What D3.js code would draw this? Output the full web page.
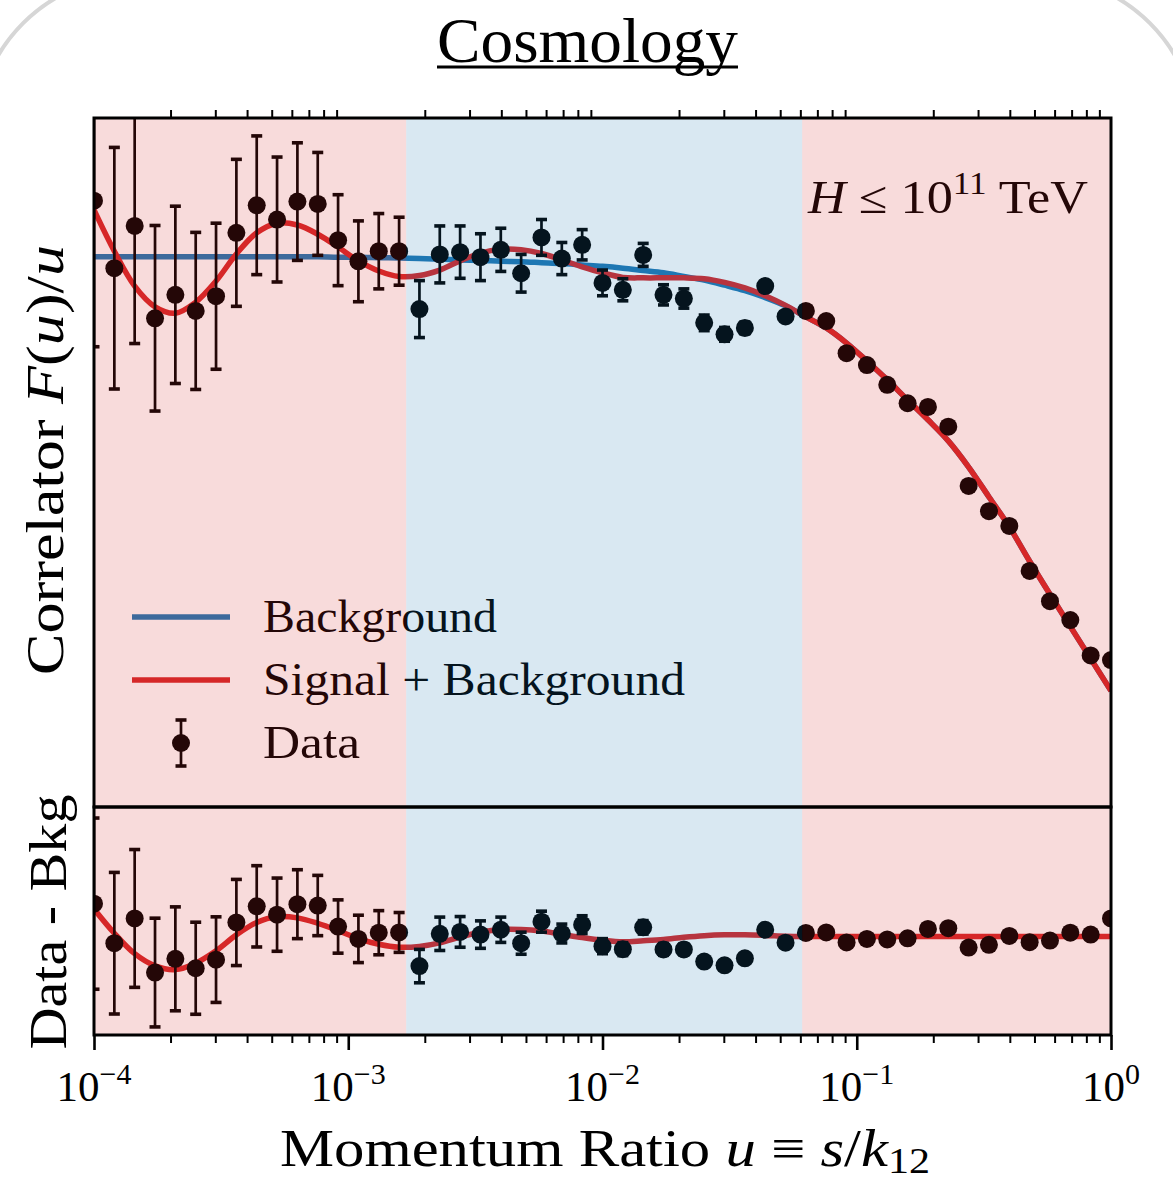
<!DOCTYPE html>
<html>
<head>
<meta charset="utf-8">
<script src="https://cdn.jsdelivr.net/npm/d3@7"></script>
<style>
  body { margin: 0; background: #fff; }
</style>
</head>
<body>
<div id="viz"></div>
<script>
// momentum ratio u, as log10 exponents of the sampled points
var logU = [-4.00,-3.92,-3.84,-3.76,-3.68,-3.60,-3.52,-3.44,-3.36,-3.28,
            -3.20,-3.12,-3.04,-2.96,-2.88,-2.80,-2.72,-2.64,-2.56,-2.48,
            -2.40,-2.32,-2.24,-2.16,-2.08,-2.00,-1.92,-1.84,-1.76,-1.68,
            -1.60,-1.52,-1.44,-1.36,-1.28,-1.20,-1.12,-1.04,-0.96,-0.88,
            -0.80,-0.72,-0.64,-0.56,-0.48,-0.40,-0.32,-0.24,-0.16,-0.08,0.00];

// measured correlator F(u)/u and its error
var dataY = [1.320,1.173,1.265,1.064,1.115,1.080,1.112,1.250,1.310,1.279,
             1.318,1.313,1.234,1.188,1.210,1.210,1.084,1.203,1.208,1.197,
             1.213,1.162,1.240,1.194,1.224,1.141,1.126,1.202,1.115,1.107,
             1.054,1.029,1.043,1.134,1.068,1.080,1.058,0.988,0.962,0.919,
             0.879,0.871,0.828,0.699,0.644,0.612,0.514,0.448,0.407,0.330,0.320];
var dataErr = [0.318,0.263,0.256,0.202,0.193,0.171,0.159,0.160,0.151,0.136,
               0.128,0.112,0.099,0.088,0.082,0.074,0.062,0.062,0.057,0.051,
               0.047,0.041,0.039,0.035,0.033,0.028,0.024,0.025,0.022,0.021,
               0.017,0.015,0.013,0.011,0.009,0.006,0.005,0.004,0.004,0.003,
               0.003,0.002,0.002,0.002,0.002,0.001,0.001,0.001,0.001,0.001,0.001];

// background model
var bkgY = [1.198,1.198,1.198,1.198,1.198,1.198,1.198,1.198,1.198,1.198,
            1.198,1.198,1.197,1.197,1.196,1.195,1.194,1.193,1.191,1.190,
            1.188,1.187,1.185,1.183,1.180,1.177,1.173,1.168,1.163,1.155,
            1.147,1.136,1.124,1.109,1.091,1.067,1.043,1.010,0.971,0.930,
            0.886,0.843,0.797,0.740,0.675,0.610,0.535,0.463,0.393,0.323,0.253];

// signal + background model
var sigY = [1.300,1.210,1.134,1.089,1.075,1.099,1.145,1.204,1.250,1.271,
            1.267,1.247,1.219,1.189,1.167,1.155,1.157,1.169,1.189,1.206,
            1.214,1.213,1.205,1.191,1.176,1.163,1.153,1.152,1.152,1.152,
            1.150,1.142,1.130,1.113,1.092,1.067,1.043,1.010,0.971,0.930,
            0.886,0.843,0.797,0.740,0.675,0.610,0.535,0.463,0.393,0.323,0.253];

// shaded bands: edges and colours
var bandEdges = [1e-4, 1.69e-3, 0.061, 1];
var bandColors = ['#d62728', '#1f77b4', '#d62728'];

var decades = [1e-4, 1e-3, 1e-2, 1e-1, 1];
var decadeLabels = ['\u22124', '\u22123', '\u22122', '\u22121', '0'];

var legendLabels = ['Background', 'Signal + Background', 'Data'];

var W = 1173, H = 1180,
    plotL = 94, plotR = 1111, plotT = 118, plotS = 807, plotB = 1035;

var svg = d3.select('#viz').append('svg')
  .attr('width', W)
  .attr('height', H)
  .style('font-family', '"Liberation Serif", "DejaVu Serif", serif');

svg.append('rect').attr('width', W).attr('height', H).attr('fill', '#fff');

// rounded card outline, only the corners fall inside the picture
svg.append('rect')
  .attr('x', -24).attr('y', -24)
  .attr('width', W + 48).attr('height', H + 400)
  .attr('rx', 161)
  .attr('fill', 'none')
  .attr('stroke', '#d6d6d6')
  .attr('stroke-width', 4);

var x = d3.scaleLog().domain([1e-4, 1]).range([plotL, plotR]);
var yMain = d3.scaleLinear().domain([0, 1.5]).range([plotS, plotT]);
var yRes = d3.scaleLinear().domain([-0.366, 0.481]).range([plotB, plotS]);

var pts = logU.map(function(e, i) {
  return { u: Math.pow(10, e), d: dataY[i], err: dataErr[i], bkg: bkgY[i], sig: sigY[i] };
});

var defs = svg.append('defs');
defs.append('clipPath').attr('id', 'clipMain').append('rect')
  .attr('x', plotL).attr('y', plotT).attr('width', plotR - plotL).attr('height', plotS - plotT);
defs.append('clipPath').attr('id', 'clipRes').append('rect')
  .attr('x', plotL).attr('y', plotS).attr('width', plotR - plotL).attr('height', plotB - plotS);

var mainG = svg.append('g').attr('clip-path', 'url(#clipMain)');
var resG = svg.append('g').attr('clip-path', 'url(#clipRes)');

var lineBkg = d3.line()
  .x(function(d) { return x(d.u); })
  .y(function(d) { return yMain(d.bkg); })
  .curve(d3.curveCatmullRom);
var lineSig = d3.line()
  .x(function(d) { return x(d.u); })
  .y(function(d) { return yMain(d.sig); })
  .curve(d3.curveCatmullRom);
var lineSigRes = d3.line()
  .x(function(d) { return x(d.u); })
  .y(function(d) { return yRes(d.sig - d.bkg); })
  .curve(d3.curveCatmullRom);

mainG.append('path').datum(pts).attr('d', lineBkg)
  .attr('fill', 'none').attr('stroke', '#1f77b4').attr('stroke-width', 5.5);
mainG.append('path').datum(pts).attr('d', lineSig)
  .attr('fill', 'none').attr('stroke', '#d62728').attr('stroke-width', 5.5);
resG.append('path').datum(pts).attr('d', lineSigRes)
  .attr('fill', 'none').attr('stroke', '#d62728').attr('stroke-width', 5.5);

function drawPoints(g, yScale, valueOf) {
  var p = g.selectAll('g.pt').data(pts).enter().append('g').attr('class', 'pt');
  p.append('line')
    .attr('x1', function(d) { return x(d.u); })
    .attr('x2', function(d) { return x(d.u); })
    .attr('y1', function(d) { return yScale(valueOf(d) - d.err); })
    .attr('y2', function(d) { return yScale(valueOf(d) + d.err); })
    .attr('stroke', '#000').attr('stroke-width', 2.7);
  [-1, 1].forEach(function(s) {
    p.append('line')
      .attr('x1', function(d) { return x(d.u) - 5.5; })
      .attr('x2', function(d) { return x(d.u) + 5.5; })
      .attr('y1', function(d) { return yScale(valueOf(d) + s * d.err); })
      .attr('y2', function(d) { return yScale(valueOf(d) + s * d.err); })
      .attr('stroke', '#000').attr('stroke-width', 3.6);
  });
  p.append('circle')
    .attr('cx', function(d) { return x(d.u); })
    .attr('cy', function(d) { return yScale(valueOf(d)); })
    .attr('r', 9)
    .attr('fill', '#000');
}
drawPoints(mainG, yMain, function(d) { return d.d; });
drawPoints(resG, yRes, function(d) { return d.d - d.bkg; });

// legend
var leg = svg.append('g');
leg.append('line').attr('x1', 132).attr('x2', 230).attr('y1', 617).attr('y2', 617)
  .attr('stroke', '#1f77b4').attr('stroke-width', 5.5);
leg.append('line').attr('x1', 132).attr('x2', 230).attr('y1', 680).attr('y2', 680)
  .attr('stroke', '#d62728').attr('stroke-width', 5.5);
leg.append('line').attr('x1', 181).attr('x2', 181).attr('y1', 720).attr('y2', 766)
  .attr('stroke', '#000').attr('stroke-width', 2.7);
leg.append('line').attr('x1', 175.5).attr('x2', 186.5).attr('y1', 720).attr('y2', 720)
  .attr('stroke', '#000').attr('stroke-width', 3.6);
leg.append('line').attr('x1', 175.5).attr('x2', 186.5).attr('y1', 766).attr('y2', 766)
  .attr('stroke', '#000').attr('stroke-width', 3.6);
leg.append('circle').attr('cx', 181).attr('cy', 743).attr('r', 9).attr('fill', '#000');
var legLen = [234, 422, 97];
leg.selectAll('text.lab').data(legendLabels).enter().append('text')
  .attr('class', 'lab')
  .attr('x', 263)
  .attr('y', function(d, i) { return 632 + i * 63; })
  .attr('font-size', 46)
  .attr('textLength', function(d, i) { return legLen[i]; })
  .attr('lengthAdjust', 'spacingAndGlyphs')
  .attr('fill', '#000')
  .text(function(d) { return d; });

// annotation
var ann = svg.append('text')
  .attr('x', 808).attr('y', 213)
  .attr('font-size', 46)
  .attr('textLength', 280)
  .attr('lengthAdjust', 'spacingAndGlyphs');
ann.append('tspan').attr('font-style', 'italic').text('H');
ann.append('tspan').text(' \u2264 10');
ann.append('tspan').attr('font-size', 31).attr('dy', -19).text('11');
ann.append('tspan').attr('dy', 19).text(' TeV');

// shaded regions drawn over everything inside the axes
var bands = d3.range(bandColors.length).map(function(i) {
  return { a: bandEdges[i], b: bandEdges[i + 1], c: bandColors[i] };
});
svg.append('g').selectAll('rect').data(bands).enter().append('rect')
  .attr('x', function(d) { return x(d.a); })
  .attr('width', function(d) { return x(d.b) - x(d.a); })
  .attr('y', plotT)
  .attr('height', plotB - plotT)
  .attr('fill', function(d) { return d.c; })
  .attr('fill-opacity', 0.17);

// ticks
var minor = [];
decades.slice(0, 4).forEach(function(dd) {
  for (var k = 2; k <= 9; k++) minor.push(dd * k);
});

svg.append('g')
  .attr('transform', 'translate(0,' + plotB + ')')
  .call(d3.axisBottom(x).tickValues(minor).tickSize(8).tickFormat(''))
  .call(function(g) {
    g.select('.domain').remove();
    g.selectAll('line').attr('stroke', '#000').attr('stroke-width', 2);
  });
svg.append('g')
  .attr('transform', 'translate(0,' + plotB + ')')
  .call(d3.axisBottom(x).tickValues(decades).tickSize(15).tickFormat(''))
  .call(function(g) {
    g.select('.domain').remove();
    g.selectAll('line').attr('stroke', '#000').attr('stroke-width', 2.6);
  });
svg.append('g')
  .attr('transform', 'translate(0,' + plotT + ')')
  .call(d3.axisTop(x).tickValues(minor).tickSize(8).tickFormat(''))
  .call(function(g) {
    g.select('.domain').remove();
    g.selectAll('line').attr('stroke', '#000').attr('stroke-width', 2);
  });

// tick labels 10^n
var tl = svg.append('g').selectAll('text').data(decades).enter().append('text')
  .attr('x', function(d) { return x(d); })
  .attr('y', 1101)
  .attr('text-anchor', 'middle')
  .attr('font-size', 43);
tl.append('tspan').text('10');
tl.append('tspan').attr('font-size', 30).attr('dy', -17)
  .text(function(d, i) { return decadeLabels[i]; });

// spines
svg.append('rect').attr('x', plotL).attr('y', plotT)
  .attr('width', plotR - plotL).attr('height', plotS - plotT)
  .attr('fill', 'none').attr('stroke', '#000').attr('stroke-width', 3);
svg.append('rect').attr('x', plotL).attr('y', plotS)
  .attr('width', plotR - plotL).attr('height', plotB - plotS)
  .attr('fill', 'none').attr('stroke', '#000').attr('stroke-width', 3);

// title
svg.append('text')
  .attr('x', 587.5).attr('y', 62)
  .attr('text-anchor', 'middle')
  .attr('font-size', 64)
  .attr('textLength', 301)
  .attr('lengthAdjust', 'spacingAndGlyphs')
  .text('Cosmology');
svg.append('line').attr('x1', 437).attr('x2', 738).attr('y1', 67).attr('y2', 67)
  .attr('stroke', '#000').attr('stroke-width', 3);

// x label
var xl = svg.append('text')
  .attr('x', 605).attr('y', 1166)
  .attr('text-anchor', 'middle')
  .attr('font-size', 52)
  .attr('textLength', 650)
  .attr('lengthAdjust', 'spacingAndGlyphs');
xl.append('tspan').text('Momentum Ratio ');
xl.append('tspan').attr('font-style', 'italic').text('u');
xl.append('tspan').text(' \u2261 ');
xl.append('tspan').attr('font-style', 'italic').text('s');
xl.append('tspan').text('/');
xl.append('tspan').attr('font-style', 'italic').text('k');
xl.append('tspan').attr('font-size', 36).attr('dy', 7).text('12');

// y labels
var yl = svg.append('text')
  .attr('transform', 'translate(63,460) rotate(-90)')
  .attr('text-anchor', 'middle')
  .attr('font-size', 52)
  .attr('textLength', 430)
  .attr('lengthAdjust', 'spacingAndGlyphs');
yl.append('tspan').text('Correlator ');
yl.append('tspan').attr('font-style', 'italic').text('F');
yl.append('tspan').text('(');
yl.append('tspan').attr('font-style', 'italic').text('u');
yl.append('tspan').text(')/');
yl.append('tspan').attr('font-style', 'italic').text('u');

svg.append('text')
  .attr('transform', 'translate(66,922) rotate(-90)')
  .attr('text-anchor', 'middle')
  .attr('font-size', 52)
  .attr('textLength', 255)
  .attr('lengthAdjust', 'spacingAndGlyphs')
  .text('Data - Bkg');
</script>
</body>
</html>
